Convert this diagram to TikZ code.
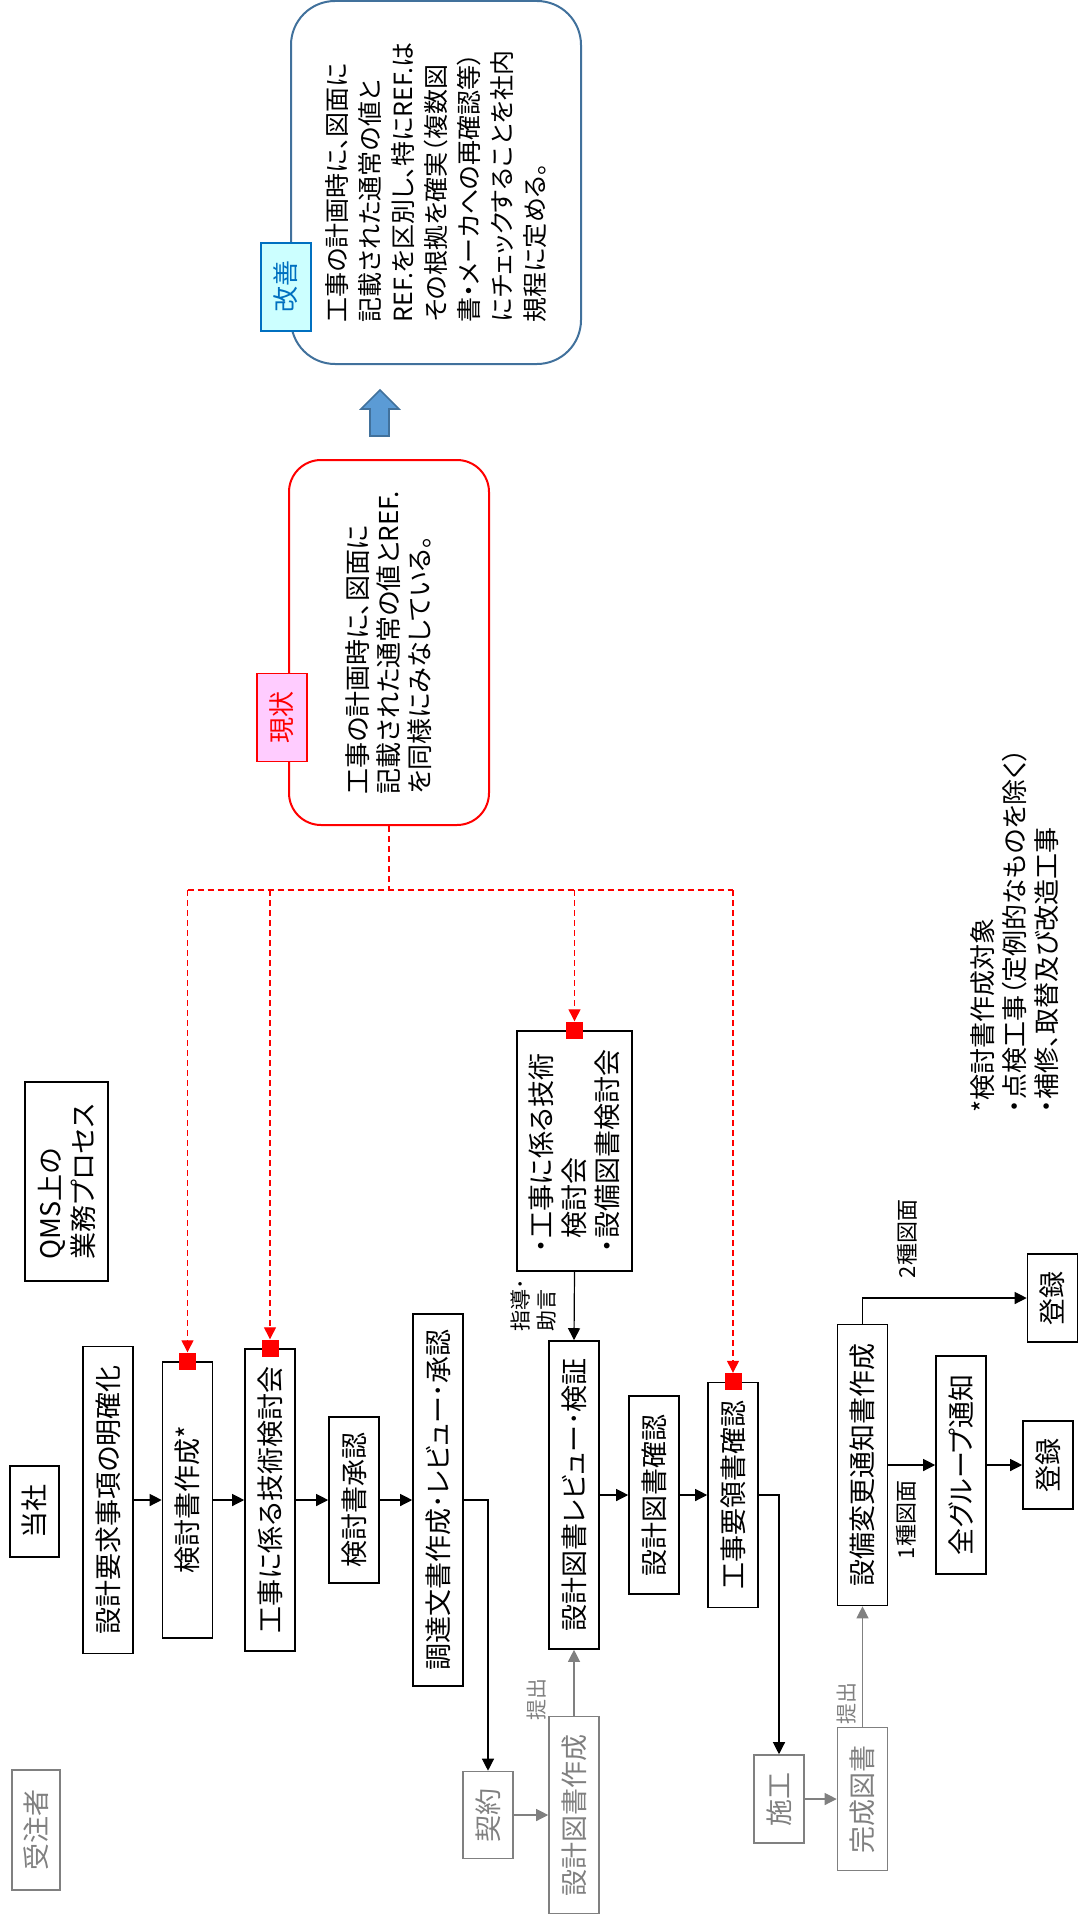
\documentclass[tikz,border=0pt]{standalone}
\usepackage{fontspec}
\setmainfont[RawFeature=+palt]{Noto Sans CJK JP}
\usepackage{tikz}
\usetikzlibrary{positioning, arrows.meta}

\definecolor{kaizenblue}{HTML}{41719C}
\definecolor{arrowblue}{HTML}{5B9BD5}
\definecolor{tagblue}{HTML}{0070C0}
\definecolor{tagcyan}{HTML}{CCFFFF}
\definecolor{tagpink}{HTML}{FFCCFF}
\definecolor{subgray}{HTML}{808080}

\tikzset{
  procbox/.style={draw, line width=0.8pt, rotate=90, inner sep=0pt, minimum height=25pt,
                  font=\fontsize{13.5pt}{16.5pt}\selectfont},
  graybox/.style={procbox, draw=subgray, text=subgray},
  tagbox/.style={draw, line width=0.8pt, rotate=90, inner sep=0pt, minimum height=25pt,
                 minimum width=44pt, font=\fontsize{13pt}{16pt}\selectfont},
  redmark/.style={fill=red, minimum size=8.5pt, inner sep=0pt},
  flow/.style={-{Triangle[length=6pt,width=6pt]}, line width=0.6pt},
  grayflow/.style={flow, subgray},
  reddash/.style={red, dash pattern=on 3pt off 2pt, line width=0.6pt},
  smalltxt/.style={rotate=90, inner sep=0pt, align=left, font=\fontsize{10.5pt}{13pt}\selectfont}
}

\begin{document}
\begin{tikzpicture}[x=0.5pt,y=-0.5pt]
\useasboundingbox (0,0) rectangle (1078,1921);

%Shape: Rounded Rectangle (kaizen)
\node[rotate=90, draw=kaizenblue, line width=1pt, rounded corners=22pt, inner sep=0pt,
      minimum width=181.5pt, minimum height=145pt, align=left,
      font=\fontsize{12.5pt}{16.5pt}\selectfont] (kaizen) at (436,182.5)
  {工事の計画時に、図面に\\記載された通常の値と\\REF.を区別し、特にREF.は\\その根拠を確実（複数図\\書・メーカへの再確認等）\\にチェックすることを社内\\規程に定める。};
\node[tagbox, draw=tagblue, fill=tagcyan, text=tagblue] (kaizentag) at (286,287) {改善};

%Shape: Up Arrow
\draw[fill=arrowblue, draw=kaizenblue, line width=0.8pt]
  (370,436) -- (370,409) -- (361,409) -- (380,390) -- (399,409) -- (389,409) -- (389,436) -- cycle;

%Shape: Rounded Rectangle (genjo)
\node[rotate=90, draw=red, line width=1pt, rounded corners=16pt, inner sep=0pt,
      minimum width=182.5pt, minimum height=100pt, align=left,
      font=\fontsize{13pt}{15.5pt}\selectfont] (now) at (389,642.5)
  {工事の計画時に、図面に\\記載された通常の値とREF.\\を同様にみなしている。};
\node[tagbox, draw=red, fill=tagpink, text=red] (nowtag) at (282,717.5) {現状};

% Text Node
\node[procbox, minimum width=45.5pt, minimum height=24.5pt] (tousha) at (34.5,1511.5) {当社};
\node[graybox, minimum width=60pt, minimum height=24pt] (jutyu) at (36,1830) {受注者};
\node[procbox, minimum width=99.5pt, minimum height=41.5pt, align=left] (qms) at (66.5,1181.5)
  {QMS上の\\業務プロセス};

%Shape: Rectangle (flow, row 1)
\node[procbox, minimum width=153.5pt] (req) at (108,1500) {設計要求事項の明確化};
\node[procbox, minimum width=138pt] (study) at (187.5,1500) {検討書作成*};
\node[procbox, minimum width=151pt] (techmeet) at (270,1500) {工事に係る技術検討会};
\node[procbox, minimum width=83pt] (approve) at (354,1500) {検討書承認};
\node[procbox, minimum width=186pt] (procure) at (438,1500) {調達文書作成･レビュー･承認};
\node[graybox, minimum width=43.5pt] (contract) at (488,1815) {契約};
\node[graybox, minimum width=98.5pt] (dwgmake) at (574,1815) {設計図書作成};

%Shape: Rectangle (flow, row 2)
\node[procbox, minimum width=120pt, minimum height=57.5pt, align=left] (meeting) at (574.5,1151)
  {・工事に係る技術\\\phantom{・}検討会\\・設備図書検討会};
\node[procbox, minimum width=154pt] (dwgreview) at (574,1495) {設計図書レビュー･検証};
\node[procbox, minimum width=99pt] (dwgcheck) at (654,1495) {設計図書確認};
\node[procbox, minimum width=112.5pt] (procedure) at (733,1495) {工事要領書確認};
\node[graybox, minimum width=44pt] (construct) at (779,1799) {施工};
\node[graybox, minimum width=71.5pt] (asbuilt) at (862.5,1799) {完成図書};

%Shape: Rectangle (flow, row 3)
\node[procbox, minimum width=140.5pt] (change) at (862.5,1465) {設備変更通知書作成};
\node[procbox, minimum width=109pt] (notify) at (961,1465) {全グループ通知};
\node[procbox, minimum width=44pt] (reg1) at (1048,1465) {登録};
\node[procbox, minimum width=44pt] (reg2) at (1052.5,1298) {登録};

% Red marks
\node[redmark] (mk1) at (study.east) {};
\node[redmark] (mk2) at (techmeet.east) {};
\node[redmark] (mk3) at (meeting.east) {};
\node[redmark] (mk4) at (procedure.east) {};

%Straight Lines (flow)
\draw[flow] (req.south) -- (study.north);
\draw[flow] (study.south) -- (techmeet.north);
\draw[flow] (techmeet.south) -- (approve.north);
\draw[flow] (approve.south) -- (procure.north);
\draw[flow] (procure.south) -| (contract.east);
\draw[grayflow] (contract.south) -- (dwgmake.north);
\draw[grayflow] (dwgmake.east) -- (dwgreview.west);
\draw[flow] (meeting.west) -- (dwgreview.east);
\draw[flow] (dwgreview.south) -- (dwgcheck.north);
\draw[flow] (dwgcheck.south) -- (procedure.north);
\draw[flow] (procedure.south) -| (construct.east);
\draw[grayflow] (construct.south) -- (asbuilt.north);
\draw[grayflow] (asbuilt.east) -- (change.west);
\draw[flow] (change.east) |- (reg2.north);
\draw[flow] (change.south) -- (notify.north);
\draw[flow] (notify.south) -- (reg1.north);

%Straight Lines (red dashed)
\coordinate (hub) at (389,890);
\draw[reddash] (now.west) -- (hub);
\draw[reddash] (mk1.north |- hub) -- (mk4.north |- hub);
\draw[reddash, flow] (mk1.north |- hub) -- (mk1.north);
\draw[reddash, flow] (mk2.north |- hub) -- (mk2.north);
\draw[reddash, flow] (mk3.north |- hub) -- (mk3.north);
\draw[reddash, flow] (mk4.north |- hub) -- (mk4.north);

% Text Node
\node[smalltxt, text=subgray] (submit1) at (537,1699) {提出};
\node[smalltxt, text=subgray] (submit2) at (847,1703) {提出};
\node[smalltxt] (advice) at (534,1305) {指導･\\助言};
\node[smalltxt, font=\fontsize{11pt}{13pt}\selectfont] (type2) at (907,1239) {2種図面};
\node[smalltxt, font=\fontsize{11pt}{13pt}\selectfont] (type1) at (906,1520) {1種図面};
\node[rotate=90, anchor=west, inner sep=0pt, align=left,
      font=\fontsize{13pt}{16pt}\selectfont] (note) at (1015,1113)
  {*検討書作成対象\\・点検工事（定例的なものを除く）\\・補修、取替及び改造工事};

\end{tikzpicture}
\end{document}
